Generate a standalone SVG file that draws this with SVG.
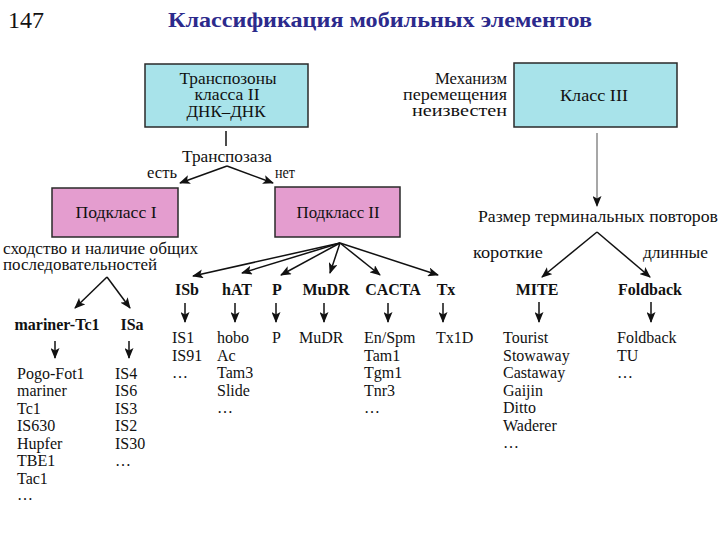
<svg xmlns="http://www.w3.org/2000/svg" width="720" height="540" viewBox="0 0 720 540">
<style>
text{font-family:"Liberation Serif","DejaVu Serif","Times New Roman",serif;fill:#111;font-size:16px}
.ru{font-size:16px}
.b{font-weight:bold}
.c{text-anchor:middle}
.r{text-anchor:end}
.cy{fill:#a8e3ea;stroke:#2a2a2a;stroke-width:1.5}
.pk{fill:#e49dcf;stroke:#2a2a2a;stroke-width:1.5}
.ln{stroke:#111;stroke-width:1.5;fill:none}
.ar{stroke:#111;stroke-width:1.5;fill:none;marker-end:url(#ah)}
.gr{stroke:#8a8a8a;stroke-width:1.5;fill:none;marker-end:url(#ah)}
</style>
<defs>
<marker id="ah" markerUnits="userSpaceOnUse" markerWidth="11" markerHeight="9" refX="10" refY="4.5" orient="auto">
<path d="M0,0 L11,4.5 L0,9 L2.5,4.5 z" fill="#111"/>
</marker>
</defs>
<rect width="720" height="540" fill="#fff"/>
<text x="8" y="28" style="font-size:24px">147</text>
<text x="380" y="27" class="b c" style="font-size:22px;fill:#2c2a8c" textLength="424" lengthAdjust="spacingAndGlyphs">Классификация мобильных элементов</text>

<g id="class2">
<rect x="145" y="64" width="163" height="63" class="cy"/>
<text x="228" y="84" class="c ru" textLength="97" lengthAdjust="spacingAndGlyphs">Транспозоны</text>
<text x="227" y="100" class="c ru" textLength="65" lengthAdjust="spacingAndGlyphs">класса II</text>
<text x="226" y="117" class="c ru" textLength="79" lengthAdjust="spacingAndGlyphs">ДНК–ДНК</text>
</g>
<g id="class3">
<rect x="514" y="63" width="163" height="64" class="cy"/>
<text x="594" y="101" class="c ru" textLength="68" lengthAdjust="spacingAndGlyphs">Класс III</text>
</g>
<g id="class3-note">
<text x="507" y="84" class="r ru" textLength="72" lengthAdjust="spacingAndGlyphs">Механизм</text>
<text x="507" y="100" class="r ru" textLength="104" lengthAdjust="spacingAndGlyphs">перемещения</text>
<text x="507" y="116" class="r ru" textLength="95" lengthAdjust="spacingAndGlyphs">неизвестен</text>
</g>
<g id="transposase">
<text x="227" y="162" class="c ru" textLength="90" lengthAdjust="spacingAndGlyphs">Транспозаза</text>
<text x="177" y="178" class="r ru" textLength="30" lengthAdjust="spacingAndGlyphs">есть</text>
<text x="275" y="178" class="ru" textLength="20" lengthAdjust="spacingAndGlyphs">нет</text>
</g>
<g id="sub1">
<rect x="52" y="188" width="126" height="49" class="pk"/>
<text x="116" y="218" class="c ru" textLength="81" lengthAdjust="spacingAndGlyphs">Подкласс I</text>
</g>
<g id="sub2">
<rect x="275" y="187" width="125" height="50" class="pk"/>
<text x="338" y="218" class="c ru" textLength="83" lengthAdjust="spacingAndGlyphs">Подкласс II</text>
</g>
<g id="similarity">
<text x="3" y="254" class="ru" textLength="195" lengthAdjust="spacingAndGlyphs">сходство и наличие общих</text>
<text x="3" y="270" class="ru" textLength="154" lengthAdjust="spacingAndGlyphs">последовательностей</text>
</g>
<g id="repeat-size">
<text x="478" y="222" class="ru" textLength="240" lengthAdjust="spacingAndGlyphs">Размер терминальных повторов</text>
<text x="473" y="258" class="ru" textLength="70" lengthAdjust="spacingAndGlyphs">короткие</text>
<text x="643" y="258" class="ru" textLength="65" lengthAdjust="spacingAndGlyphs">длинные</text>
</g>

<g id="col-mariner">
<text x="57" y="330" class="b c">mariner-Tc1</text>
<text x="17" y="378.5">Pogo-Fot1</text>
<text x="17" y="396">mariner</text>
<text x="17" y="413.5">Tc1</text>
<text x="17" y="431">IS630</text>
<text x="17" y="448.5">Hupfer</text>
<text x="17" y="466">TBE1</text>
<text x="17" y="483.5">Tac1</text>
<text x="17" y="500">…</text>
</g>
<g id="col-isa">
<text x="132" y="330" class="b c">ISa</text>
<text x="115" y="378.5">IS4</text>
<text x="115" y="396">IS6</text>
<text x="115" y="413.5">IS3</text>
<text x="115" y="431">IS2</text>
<text x="115" y="448.5">IS30</text>
<text x="115" y="466">…</text>
</g>
<g id="col-isb">
<text x="187" y="295" class="b c">ISb</text>
<text x="172" y="343">IS1</text>
<text x="172" y="360.5">IS91</text>
<text x="172" y="378">…</text>
</g>
<g id="col-hat">
<text x="237" y="295" class="b c">hAT</text>
<text x="217" y="343">hobo</text>
<text x="217" y="360.5">Ac</text>
<text x="217" y="378">Tam3</text>
<text x="217" y="395.5">Slide</text>
<text x="217" y="413">…</text>
</g>
<g id="col-p">
<text x="277" y="295" class="b c">P</text>
<text x="272" y="343">P</text>
</g>
<g id="col-mudr">
<text x="326" y="295" class="b c">MuDR</text>
<text x="299" y="343">MuDR</text>
</g>
<g id="col-cacta">
<text x="393" y="295" class="b c">CACTA</text>
<text x="364" y="343">En/Spm</text>
<text x="364" y="360.5">Tam1</text>
<text x="364" y="378">Tgm1</text>
<text x="364" y="395.5">Tnr3</text>
<text x="364" y="413">…</text>
</g>
<g id="col-tx">
<text x="446" y="295" class="b c">Tx</text>
<text x="436" y="343">Tx1D</text>
</g>
<g id="col-mite">
<text x="537" y="295" class="b c">MITE</text>
<text x="503" y="343">Tourist</text>
<text x="503" y="360.5">Stowaway</text>
<text x="503" y="378">Castaway</text>
<text x="503" y="395.5">Gaijin</text>
<text x="503" y="413">Ditto</text>
<text x="503" y="430.5">Waderer</text>
<text x="503" y="448">…</text>
</g>
<g id="col-foldback">
<text x="650" y="295" class="b c">Foldback</text>
<text x="617" y="343">Foldback</text>
<text x="617" y="360.5">TU</text>
<text x="617" y="378">…</text>
</g>

<g id="connectors">
<line x1="226" y1="131" x2="226" y2="146" class="ln"/>
<line x1="227" y1="166" x2="180" y2="183" class="ar"/>
<line x1="227" y1="166" x2="273" y2="183" class="ar"/>
<line x1="340" y1="243" x2="193" y2="276" class="ar"/>
<line x1="340" y1="243" x2="242" y2="273" class="ar"/>
<line x1="340" y1="243" x2="281" y2="275" class="ar"/>
<line x1="340" y1="243" x2="330" y2="273" class="ar"/>
<line x1="340" y1="243" x2="380" y2="275" class="ar"/>
<line x1="340" y1="243" x2="438" y2="275" class="ar"/>
<line x1="107" y1="277" x2="75" y2="308" class="ar"/>
<line x1="107" y1="277" x2="130" y2="308" class="ar"/>
<line x1="597" y1="133" x2="597" y2="206" class="gr"/>
<line x1="597" y1="232" x2="542" y2="277" class="ar"/>
<line x1="597" y1="232" x2="650" y2="277" class="ar"/>
<line x1="55" y1="341" x2="55" y2="358" class="ar"/>
<line x1="129" y1="341" x2="129" y2="358" class="ar"/>
<line x1="185" y1="303" x2="185" y2="322" class="ar"/>
<line x1="235" y1="303" x2="235" y2="322" class="ar"/>
<line x1="276" y1="303" x2="276" y2="322" class="ar"/>
<line x1="324" y1="303" x2="324" y2="322" class="ar"/>
<line x1="388" y1="303" x2="388" y2="322" class="ar"/>
<line x1="443" y1="303" x2="443" y2="322" class="ar"/>
<line x1="539" y1="302" x2="539" y2="322" class="ar"/>
<line x1="651" y1="302" x2="651" y2="322" class="ar"/>
</g>
</svg>
